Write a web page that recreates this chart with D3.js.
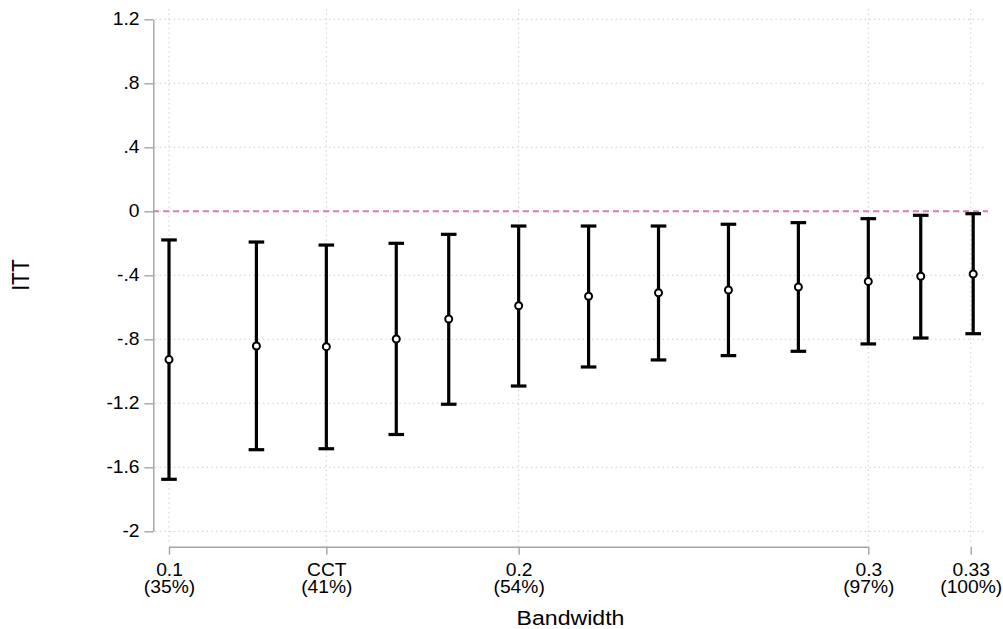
<!DOCTYPE html>
<html>
<head>
<meta charset="utf-8">
<script src="https://cdn.jsdelivr.net/npm/d3@7"></script>
<style>
  html, body { margin: 0; padding: 0; background: #fff; }
  svg { display: block; font-family: "Liberation Sans", Arial, sans-serif; }
</style>
</head>
<body>
<svg id="chart" width="1003" height="629"></svg>
<script>
// Estimated intent-to-treat effect by bandwidth, with confidence intervals
const bandwidths = [0.1, 0.125, 0.145, 0.165, 0.18, 0.2, 0.22, 0.24, 0.26, 0.28, 0.3, 0.315, 0.33];
const itt        = [-0.927, -0.842, -0.846, -0.798, -0.673, -0.590, -0.531, -0.509, -0.492, -0.473, -0.438, -0.406, -0.392];
const ciLow      = [-1.675, -1.490, -1.484, -1.395, -1.206, -1.092, -0.973, -0.929, -0.902, -0.875, -0.829, -0.792, -0.765];
const ciHigh     = [-0.179, -0.192, -0.211, -0.200, -0.144, -0.092, -0.092, -0.092, -0.081, -0.071, -0.046, -0.025, -0.015];

// Axis ticks
const xTickValues = [0.1, 0.145, 0.2, 0.3, 0.3293];
const xTickLabels = ["0.1", "CCT", "0.2", "0.3", "0.33"];
const xTickShares = ["(35%)", "(41%)", "(54%)", "(97%)", "(100%)"];
const yTickValues = [-2, -1.6, -1.2, -0.8, -0.4, 0, 0.4, 0.8, 1.2];
const yTickLabels = ["-2", "-1.6", "-1.2", "-.8", "-.4", "0", ".4", ".8", "1.2"];

const svg = d3.select("#chart");
const SX = 1.1;       // horizontal text stretch
const tickFont = "17.5px";

const x = d3.scaleLinear().domain([0.1, 0.3]).range([169, 868.3]);
const y = d3.scaleLinear().domain([-2, 1.2]).range([531.3, 19.3]);

const axisColor = "#a3a3a3";
const gridColor = "#c8c8c8";

// Grid lines
const grid = svg.append("g");
grid.selectAll("line.h").data(yTickValues).join("line")
  .attr("x1", 155).attr("x2", 986)
  .attr("y1", d => y(d)).attr("y2", d => y(d))
  .attr("stroke", gridColor).attr("stroke-width", 1)
  .attr("stroke-dasharray", "1.3,3.4");
grid.selectAll("line.v").data(xTickValues).join("line")
  .attr("x1", d => x(d)).attr("x2", d => x(d))
  .attr("y1", 9).attr("y2", 544)
  .attr("stroke", gridColor).attr("stroke-width", 1)
  .attr("stroke-dasharray", "1.3,3.4");

// Reference line at zero
svg.append("line")
  .attr("x1", 153).attr("x2", 988)
  .attr("y1", y(0)).attr("y2", y(0))
  .attr("stroke", "#d67fb4").attr("stroke-width", 2)
  .attr("stroke-dasharray", "6,4");

// Y axis
const yAxis = svg.append("g")
  .attr("transform", "translate(153.3,0)")
  .call(d3.axisLeft(y).tickValues(yTickValues)
    .tickFormat((d, i) => yTickLabels[i])
    .tickSize(9).tickSizeOuter(0).tickPadding(3.5));
yAxis.attr("font-family", null).attr("font-size", null);
yAxis.select(".domain").attr("stroke", axisColor).attr("stroke-width", 1.4);
yAxis.selectAll(".tick line").attr("stroke", axisColor).attr("stroke-width", 1.4);
yAxis.selectAll(".tick text")
  .attr("fill", "#000").style("font-size", tickFont)
  .attr("transform", `scale(${SX},1)`);

// X axis
const xAxis = svg.append("g")
  .attr("transform", "translate(0,546.7)")
  .call(d3.axisBottom(x).tickValues(xTickValues)
    .tickFormat((d, i) => xTickLabels[i])
    .tickSize(8).tickSizeOuter(0));
xAxis.attr("font-family", null).attr("font-size", null);
xAxis.select(".domain").attr("stroke", axisColor).attr("stroke-width", 1.4);
xAxis.selectAll(".tick line").attr("stroke", axisColor).attr("stroke-width", 1.4);
xAxis.selectAll(".tick text").each(function(d, i) {
  const t = d3.select(this)
    .text(null)
    .attr("y", null).attr("dy", null)
    .attr("fill", "#000").style("font-size", tickFont)
    .attr("transform", `scale(${SX},1)`);
  t.append("tspan").attr("x", 0).attr("y", 29).text(xTickLabels[i]);
  t.append("tspan").attr("x", 0).attr("y", 46.6).text(xTickShares[i]);
});

// Axis titles
svg.append("text")
  .attr("transform", `translate(570.5,625) scale(${SX},1)`)
  .attr("text-anchor", "middle")
  .style("font-size", "21px").attr("fill", "#000")
  .text("Bandwidth");
svg.append("text")
  .attr("transform", `translate(28.5,275) scale(${SX},1) rotate(-90)`)
  .attr("text-anchor", "middle")
  .style("font-size", "21px").attr("fill", "#000")
  .text("ITT");

// Confidence intervals
const rows = bandwidths.map((b, i) => ({ b, est: itt[i], lo: ciLow[i], hi: ciHigh[i] }));
const bars = svg.append("g").attr("stroke", "#000").attr("stroke-width", 3.2);
bars.selectAll("line.stem").data(rows).join("line")
  .attr("x1", d => x(d.b)).attr("x2", d => x(d.b))
  .attr("y1", d => y(d.lo)).attr("y2", d => y(d.hi));
const capW = 7.8;
bars.selectAll("line.capHi").data(rows).join("line")
  .attr("x1", d => x(d.b) - capW).attr("x2", d => x(d.b) + capW)
  .attr("y1", d => y(d.hi)).attr("y2", d => y(d.hi));
bars.selectAll("line.capLo").data(rows).join("line")
  .attr("x1", d => x(d.b) - capW).attr("x2", d => x(d.b) + capW)
  .attr("y1", d => y(d.lo)).attr("y2", d => y(d.lo));

// Point estimates
svg.append("g").selectAll("circle").data(rows).join("circle")
  .attr("cx", d => x(d.b)).attr("cy", d => y(d.est))
  .attr("r", 3.5)
  .attr("fill", "#fff").attr("stroke", "#000").attr("stroke-width", 2);
</script>
</body>
</html>
